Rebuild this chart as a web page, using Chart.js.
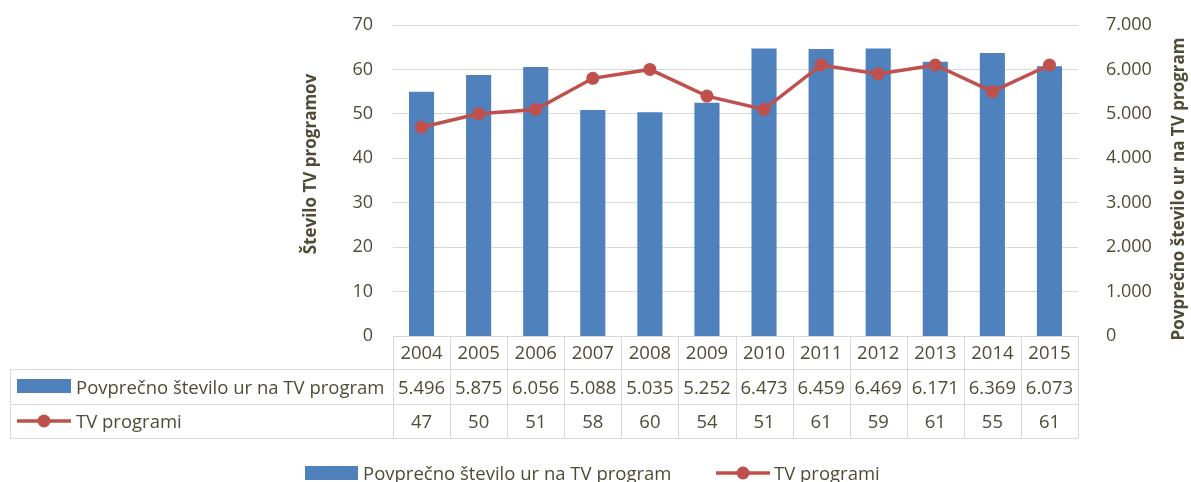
<!DOCTYPE html>
<html>
<head>
<meta charset="utf-8">
<script src="https://cdn.jsdelivr.net/npm/chart.js@4/dist/chart.umd.min.js"></script>
<style>
  html, body { margin: 0; padding: 0; background: #fff; }
  #wrap { width: 1191px; height: 482px; position: relative; }
</style>
</head>
<body>
<div id="wrap"><canvas id="chart" width="1191" height="482"></canvas></div>
<script>
const years = ["2004", "2005", "2006", "2007", "2008", "2009", "2010", "2011", "2012", "2013", "2014", "2015"];
const hoursPerProgram = [5496, 5875, 6056, 5088, 5035, 5252, 6473, 6459, 6469, 6171, 6369, 6073];
const tvPrograms = [47, 50, 51, 58, 60, 54, 51, 61, 59, 61, 55, 61];

const barLabel = "Povprečno število ur na TV program";
const lineLabel = "TV programi";
const leftTitle = "Število TV programov";
const rightTitle = "Povprečno število ur na TV program";

const BLUE = "#4f81bd";
const RED = "#c0504d";
const TEXT = "#504b37";
const GRID = "#d9d9d9";
const FONT = "'Open Sans', Lato, sans-serif";

// 5496 -> "5.496"
const fmtThousands = v => {
  const s = String(Math.round(v));
  return s.replace(/\B(?=(\d{3})+(?!\d))/g, ".");
};

function drawBarSwatch(ctx, x, y, w, h) {
  ctx.fillStyle = BLUE;
  ctx.fillRect(x, y, w, h);
}

function drawLineSwatch(ctx, x1, x2, y) {
  ctx.strokeStyle = RED;
  ctx.lineWidth = 3.5;
  ctx.beginPath();
  ctx.moveTo(x1, y);
  ctx.lineTo(x2, y);
  ctx.stroke();
  ctx.fillStyle = RED;
  ctx.beginPath();
  ctx.arc((x1 + x2) / 2, y, 6.5, 0, Math.PI * 2);
  ctx.fill();
}

function drawRotated(ctx, text, x, y) {
  ctx.save();
  ctx.translate(x, y);
  ctx.rotate(-Math.PI / 2);
  ctx.textAlign = "center";
  ctx.textBaseline = "alphabetic";
  ctx.fillText(text, 0, 0);
  ctx.restore();
}

// data table under the plot, axis titles and the bottom legend
const tablePlugin = {
  id: "dataTable",
  afterDraw(chart) {
    const ctx = chart.ctx;
    const ca = chart.chartArea;
    const xs = chart.scales.x;
    const colW = (ca.right - ca.left) / years.length;
    const rowTop = ca.bottom, row1 = 369, row2 = 404, row3 = 438;
    const tableLeft = 10;

    ctx.save();
    ctx.strokeStyle = GRID;
    ctx.lineWidth = 1;
    ctx.beginPath();
    // horizontal lines
    ctx.moveTo(ca.left, rowTop + 0.5); ctx.lineTo(ca.right, rowTop + 0.5);
    [row1, row2, row3].forEach(y => {
      ctx.moveTo(tableLeft, y + 0.5); ctx.lineTo(ca.right, y + 0.5);
    });
    // vertical lines
    for (let i = 0; i <= years.length; i++) {
      const x = Math.round(ca.left + i * colW) + 0.5;
      ctx.moveTo(x, rowTop); ctx.lineTo(x, row3);
    }
    ctx.moveTo(tableLeft + 0.5, row1); ctx.lineTo(tableLeft + 0.5, row3);
    ctx.stroke();

    ctx.fillStyle = TEXT;
    ctx.font = "18.5px " + FONT;
    ctx.textAlign = "center";
    ctx.textBaseline = "alphabetic";
    years.forEach((yr, i) => {
      const cx = xs.getPixelForValue(i);
      ctx.fillText(yr, cx, 359);
      ctx.fillText(fmtThousands(hoursPerProgram[i]), cx, 394);
      ctx.fillText(String(tvPrograms[i]), cx, 428);
    });

    // row headers
    drawBarSwatch(ctx, 17, 379, 54, 14);
    drawLineSwatch(ctx, 17, 71, 421);
    ctx.fillStyle = TEXT;
    ctx.textAlign = "left";
    ctx.fillText(barLabel, 76, 394);
    ctx.fillText(lineLabel, 76, 428);

    // bottom legend
    drawBarSwatch(ctx, 305, 466, 53, 14);
    ctx.fillStyle = TEXT;
    ctx.fillText(barLabel, 363, 480);
    drawLineSwatch(ctx, 716, 770, 473);
    ctx.fillStyle = TEXT;
    ctx.textAlign = "left";
    ctx.fillText(lineLabel, 774, 480);

    // axis titles
    ctx.font = "bold 17px " + FONT;
    ctx.fillStyle = TEXT;
    drawRotated(ctx, leftTitle, 316, 164);
    drawRotated(ctx, rightTitle, 1184, 189);
    ctx.restore();
  }
};

const fitAxis = w => s => {
  s.width = w;
  s.paddingTop = 0;
  s.paddingBottom = 0;
};

new Chart(document.getElementById("chart"), {
  data: {
    labels: years,
    datasets: [
      {
        type: "line",
        label: lineLabel,
        data: tvPrograms,
        yAxisID: "y",
        borderColor: RED,
        backgroundColor: RED,
        borderWidth: 3.5,
        pointRadius: 6.5,
        pointBackgroundColor: RED,
        pointBorderColor: RED,
        pointBorderWidth: 0,
        tension: 0,
        order: 0
      },
      {
        type: "bar",
        label: barLabel,
        data: hoursPerProgram,
        yAxisID: "y1",
        backgroundColor: BLUE,
        borderWidth: 0,
        barPercentage: 0.44,
        categoryPercentage: 1,
        order: 1
      }
    ]
  },
  options: {
    responsive: false,
    animation: false,
    events: [],
    layout: { padding: { left: 290, right: 0, top: 25, bottom: 146 } },
    plugins: {
      legend: { display: false },
      tooltip: { enabled: false }
    },
    scales: {
      x: { display: false, offset: true },
      y: {
        position: "left",
        min: 0, max: 70,
        ticks: { stepSize: 10, padding: 20, color: TEXT, font: { family: FONT, size: 18 } },
        grid: { color: GRID, lineWidth: 1, drawTicks: false },
        border: { display: false },
        afterFit: fitAxis(103)
      },
      y1: {
        position: "right",
        min: 0, max: 7000,
        ticks: { stepSize: 1000, padding: 20, color: TEXT, font: { family: FONT, size: 18 }, callback: v => fmtThousands(v) },
        grid: { display: false },
        border: { display: false },
        afterFit: fitAxis(113)
      }
    }
  },
  plugins: [tablePlugin]
});
</script>
</body>
</html>
